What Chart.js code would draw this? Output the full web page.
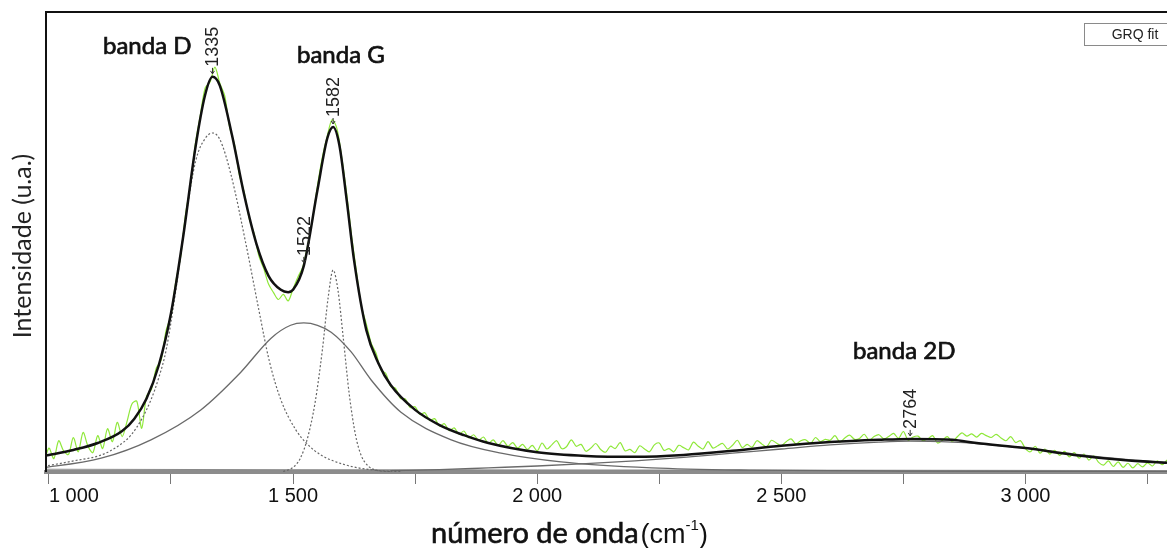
<!DOCTYPE html>
<html lang="pt">
<head>
<meta charset="utf-8">
<title>Espectro Raman</title>
<script src="https://cdn.jsdelivr.net/npm/chart.js@4.4.1/dist/chart.umd.min.js"></script>
<style>
  html, body { margin: 0; padding: 0; background: #fff; }
  #wrap { width: 1167px; height: 548px; }
</style>
</head>
<body>
<div id="wrap"><canvas id="ramanChart" width="1167" height="548"></canvas></div>
<script>
// Raman spectrum: measured signal (green) and fitted bands
const wavenumbers = [
  990,
  1000, 1010, 1020, 1030, 1040, 1050, 1060, 1070, 1080, 1090,
  1100, 1110, 1120, 1130, 1140, 1150, 1160, 1170, 1180, 1190,
  1200, 1210, 1220, 1230, 1240, 1250, 1260, 1270, 1280, 1290,
  1300, 1310, 1320, 1330, 1340, 1350, 1360, 1370, 1380, 1390,
  1400, 1410, 1420, 1430, 1440, 1450, 1460, 1470, 1480, 1490,
  1500, 1510, 1520, 1530, 1540, 1550, 1560, 1570, 1580, 1590,
  1600, 1610, 1620, 1630, 1640, 1650, 1660, 1670, 1680, 1690,
  1700, 1710, 1720, 1730, 1740, 1750, 1760, 1770, 1780, 1790,
  1800, 1810, 1820, 1830, 1840, 1850, 1860, 1870, 1880, 1890,
  1900, 1910, 1920, 1930, 1940, 1950, 1960, 1970, 1980, 1990,
  2000, 2010, 2020, 2030, 2040, 2050, 2060, 2070, 2080, 2090,
  2100, 2110, 2120, 2130, 2140, 2150, 2160, 2170, 2180, 2190,
  2200, 2210, 2220, 2230, 2240, 2250, 2260, 2270, 2280, 2290,
  2300, 2310, 2320, 2330, 2340, 2350, 2360, 2370, 2380, 2390,
  2400, 2410, 2420, 2430, 2440, 2450, 2460, 2470, 2480, 2490,
  2500, 2510, 2520, 2530, 2540, 2550, 2560, 2570, 2580, 2590,
  2600, 2610, 2620, 2630, 2640, 2650, 2660, 2670, 2680, 2690,
  2700, 2710, 2720, 2730, 2740, 2750, 2760, 2770, 2780, 2790,
  2800, 2810, 2820, 2830, 2840, 2850, 2860, 2870, 2880, 2890,
  2900, 2910, 2920, 2930, 2940, 2950, 2960, 2970, 2980, 2990,
  3000, 3010, 3020, 3030, 3040, 3050, 3060, 3070, 3080, 3090,
  3100, 3110, 3120, 3130, 3140, 3150, 3160, 3170, 3180, 3190,
  3200, 3210, 3220, 3230, 3240, 3250, 3260, 3270, 3280, 3290
];
const measured = [
  2.0,
  5.2, 2.9, 6.8, 4.6, 3.8, 7.5, 4.4, 8.6, 5.6, 4.2,
  7.9, 5.1, 9.4, 6.6, 10.8, 7.7, 11.0, 14.8, 15.4, 9.5,
  16.5, 18.0, 22.6, 24.4, 30.8, 34.0, 41.5, 47.0, 56.2, 62.4,
  71.4, 77.5, 83.5, 84.8, 88.0, 84.5, 81.8, 75.0, 71.2, 64.6,
  60.8, 55.2, 51.9, 47.0, 44.2, 40.8, 39.0, 37.5, 38.6, 37.2,
  39.8, 42.4, 44.6, 49.4, 55.0, 62.2, 68.4, 73.0, 76.6, 74.6,
  68.2, 60.3, 51.2, 43.4, 36.0, 32.2, 28.0, 25.8, 22.2, 21.4,
  18.6, 18.2, 16.0, 15.9, 14.0, 14.2, 12.5, 12.9, 11.2, 11.6,
  10.0, 10.5, 9.0, 9.6, 8.2, 8.9, 7.4, 8.1, 6.9, 7.6,
  6.2, 7.0, 5.8, 6.8, 5.6, 6.4, 5.2, 6.0, 4.9, 5.8,
  4.6, 6.3, 5.0, 5.9, 6.8, 5.1, 5.5, 7.0, 5.6, 6.0,
  4.5, 5.2, 6.2, 4.9, 4.3, 5.6, 5.1, 6.4, 4.6, 4.9,
  4.2, 5.7, 5.0, 4.4, 5.9, 6.3, 4.7, 5.1, 4.4, 5.8,
  5.3, 4.8, 6.5, 5.6, 5.0, 6.6, 5.2, 5.7, 6.2, 5.0,
  5.8, 6.9, 5.3, 6.0, 5.4, 6.8, 6.1, 5.5, 6.9, 6.3,
  5.7, 6.6, 7.2, 6.1, 6.8, 7.0, 6.2, 7.5, 6.6, 7.1,
  6.9, 7.9, 6.5, 7.4, 8.0, 7.1, 7.3, 8.2, 6.9, 7.7,
  8.1, 7.2, 7.7, 8.4, 7.3, 8.8, 6.9, 7.6, 7.8, 6.8,
  7.2, 7.9, 6.3, 6.9, 7.7, 6.6, 7.6, 8.5, 7.8, 8.3,
  7.6, 8.4, 7.9, 7.5, 8.2, 7.4, 6.8, 7.7, 6.4, 6.8,
  5.1, 4.4, 5.6, 4.1, 5.0, 3.9, 4.7, 3.6, 4.5, 3.3,
  4.2, 3.0, 3.9, 2.6, 3.5, 2.1, 1.5, 2.4, 1.2, 2.2,
  1.0, 1.9, 0.9, 1.8, 1.1, 2.0, 1.3, 2.4, 1.6, 2.6
];

// Fit envelope (sum of bands)
const fitX = [990, 1000, 1050, 1100, 1150, 1175, 1200, 1225, 1250, 1275, 1300, 1320, 1335, 1350, 1375,
  1400, 1425, 1450, 1475, 1490, 1500, 1522, 1550, 1570, 1582, 1595, 1610, 1625, 1650, 1675, 1700,
  1750, 1800, 1850, 1900, 2000, 2100, 2200, 2300, 2400, 2500, 2600, 2700, 2764, 2850, 2900, 3000,
  3100, 3200, 3290];
const fitY = [3.5, 3.7, 4.8, 6.3, 8.9, 11.6, 16.0, 23.2, 34.5, 51.2, 70.5, 82.0, 85.9, 84.0, 73.2,
  60.2, 49.6, 42.6, 39.6, 39.1, 39.6, 44.8, 61.3, 72.5, 75.0, 71.0, 59.0, 46.0, 30.9, 23.6, 18.9,
  13.5, 10.2, 8.0, 6.3, 4.3, 3.5, 3.3, 3.7, 4.6, 5.7, 6.5, 7.0, 7.2, 7.0, 6.3, 5.2,
  3.7, 2.6, 2.0];

// Individual bands
const dBandX = [990, 1004, 1050, 1107, 1140, 1168, 1190, 1209, 1225, 1240, 1260, 1281, 1301, 1320, 1335,
  1350, 1373, 1404, 1430, 1451, 1475, 1506, 1530, 1557, 1609, 1666, 1720];
const dBandY = [1.3, 1.5, 2.4, 3.7, 5.5, 8.0, 11.5, 15.7, 20.5, 26.5, 39.6, 55.9, 67.8, 72.5, 73.7,
  72.3, 64.6, 49.3, 35.2, 24.3, 15.7, 9.1, 6.0, 3.7, 1.5, 0.4, 0.1];

const gBandX = [1480, 1500, 1515, 1530, 1545, 1560, 1572, 1582, 1592, 1603, 1615, 1628, 1640, 1655, 1670, 1700];
const gBandY = [0.1, 1.0, 3.0, 7.5, 15.0, 26.5, 38.0, 43.9, 39.5, 29.0, 17.0, 8.0, 3.5, 1.2, 0.4, 0.1];

const broadBandX = [990, 1000, 1107, 1209, 1311, 1393, 1455, 1495, 1522, 1550, 1578, 1619, 1660, 1721,
  1824, 1926, 2049, 2234, 2439, 2746, 3290];
const broadBandY = [1.0, 1.1, 3.0, 7.0, 13.5, 21.7, 29.1, 31.9, 32.4, 31.9, 30.4, 26.1, 20.0, 13.0,
  7.0, 4.1, 2.2, 0.9, 0.4, 0.2, 0.1];

const band2DX = [1700, 1800, 1900, 2000, 2100, 2200, 2300, 2400, 2500, 2600, 2700, 2764, 2850, 2900,
  3000, 3100, 3200, 3290];
const band2DY = [0.3, 0.5, 0.9, 1.3, 1.8, 2.4, 3.2, 4.1, 5.0, 5.9, 6.5, 6.7, 6.5, 6.2,
  5.2, 3.9, 2.8, 2.1];

const baseX = [990, 1500, 2000, 2500, 3000, 3290];
const baseY = [0.6, 0.5, 0.45, 0.4, 0.35, 0.3];

const tickValues = [1000, 1250, 1500, 1750, 2000, 2250, 2500, 2750, 3000, 3250];
const tickLabels = ['1 000', '', '1 500', '', '2 000', '', '2 500', '', '3 000', ''];

const peakPositions = [1335, 1582, 1522, 2764];
const peakLabels = ['1335', '1582', '1522', '2764'];
const bandNames = ['banda D', 'banda G', 'banda 2D'];

function toPoints(xs, ys) {
  return xs.map((x, i) => ({ x: x, y: ys[i] }));
}

const SANS = '"Liberation Sans", Arial, sans-serif';
const HUMAN = 'Lato, "Open Sans", sans-serif';

// filled text with a thin outline, a bit heavier than regular weight
function heavyText(ctx, text, x, y, width) {
  ctx.fillText(text, x, y);
  ctx.lineWidth = width;
  ctx.strokeText(text, x, y);
}

// Frame, peak markers, band names, legend box and axis titles
const decorations = {
  id: 'decorations',
  afterDatasetsDraw(chart) {
    const { ctx, chartArea, scales } = chart;
    const xs = scales.x, ys = scales.y;
    ctx.save();

    ctx.strokeStyle = '#111';
    ctx.lineWidth = 2;
    ctx.beginPath();
    ctx.moveTo(chartArea.left, chartArea.bottom);
    ctx.lineTo(chartArea.left, chartArea.top);
    ctx.lineTo(chartArea.right + 2, chartArea.top);
    ctx.stroke();

    // peak positions, written vertically above the fit
    ctx.font = '18px "Liberation Sans Narrow", ' + SANS;
    ctx.fillStyle = '#222';
    ctx.strokeStyle = '#333';
    ctx.lineWidth = 1;
    peakPositions.forEach((p, i) => {
      const px = xs.getPixelForValue(p);
      const py = ys.getPixelForValue(fitY[fitX.indexOf(p)]);
      ctx.beginPath();
      ctx.moveTo(px, py - 3);
      ctx.lineTo(px, py - 9);
      ctx.moveTo(px - 2, py - 6);
      ctx.lineTo(px, py - 3);
      ctx.lineTo(px + 2, py - 6);
      ctx.stroke();
      ctx.save();
      ctx.translate(px + 1, py - 10);
      ctx.rotate(-Math.PI / 2);
      ctx.textAlign = 'left';
      ctx.textBaseline = 'middle';
      ctx.fillText(peakLabels[i], 0, 0);
      ctx.restore();
    });

    // band names
    ctx.font = '24px ' + HUMAN;
    ctx.fillStyle = '#111';
    ctx.strokeStyle = '#111';
    ctx.textBaseline = 'alphabetic';
    ctx.textAlign = 'left';
    heavyText(ctx, bandNames[0], 103, 54, 0.7);
    heavyText(ctx, bandNames[1], 297, 63, 0.7);
    heavyText(ctx, bandNames[2], 853, 359, 0.7);

    // legend box
    ctx.strokeStyle = '#8a8a8a';
    ctx.lineWidth = 1;
    ctx.strokeRect(1084.5, 23.5, 100, 22);
    ctx.font = '14px ' + SANS;
    ctx.fillStyle = '#222';
    ctx.textAlign = 'center';
    ctx.textBaseline = 'middle';
    ctx.fillText('GRQ fit', 1135, 35);

    // y axis title
    ctx.save();
    ctx.translate(23, 246);
    ctx.rotate(-Math.PI / 2);
    ctx.font = '25px ' + HUMAN;
    ctx.fillStyle = '#222';
    ctx.textAlign = 'center';
    ctx.textBaseline = 'middle';
    ctx.fillText('Intensidade (u.a.)', 0, 0);
    ctx.restore();

    // x axis title with superscript unit
    ctx.textAlign = 'left';
    ctx.textBaseline = 'alphabetic';
    ctx.fillStyle = '#111';
    ctx.strokeStyle = '#111';
    let tx = 431;
    const base = 543;
    ctx.font = '29px ' + HUMAN;
    heavyText(ctx, 'número de onda', tx, base, 0.6);
    tx += ctx.measureText('número de onda').width + 2;
    ctx.font = '27px ' + SANS;
    ctx.fillText('(cm', tx, base);
    tx += ctx.measureText('(cm').width;
    ctx.font = '15px ' + SANS;
    ctx.fillText('-1', tx, base - 13);
    tx += ctx.measureText('-1').width;
    ctx.font = '27px ' + SANS;
    ctx.fillText(')', tx, base);

    ctx.restore();
  }
};

const ctx = document.getElementById('ramanChart').getContext('2d');
const ramanChart = new Chart(ctx, {
  type: 'line',
  data: {
    datasets: [
      {
        label: 'ajuste',
        data: toPoints(fitX, fitY),
        borderColor: '#111',
        borderWidth: 2.5,
        cubicInterpolationMode: 'monotone'
      },
      {
        label: 'banda D',
        data: toPoints(dBandX, dBandY),
        borderColor: '#666',
        borderWidth: 1.2,
        borderDash: [2, 2],
        cubicInterpolationMode: 'monotone'
      },
      {
        label: 'banda G',
        data: toPoints(gBandX, gBandY),
        borderColor: '#666',
        borderWidth: 1.2,
        borderDash: [2, 2],
        cubicInterpolationMode: 'monotone'
      },
      {
        label: 'banda 1522',
        data: toPoints(broadBandX, broadBandY),
        borderColor: '#6a6a6a',
        borderWidth: 1.3,
        cubicInterpolationMode: 'monotone'
      },
      {
        label: 'banda 2D',
        data: toPoints(band2DX, band2DY),
        borderColor: '#6a6a6a',
        borderWidth: 1.3,
        cubicInterpolationMode: 'monotone'
      },
      {
        label: 'linha de base',
        data: toPoints(baseX, baseY),
        borderColor: '#888',
        borderWidth: 1,
        cubicInterpolationMode: 'monotone'
      },
      {
        label: 'espectro',
        data: toPoints(wavenumbers, measured),
        borderColor: '#8fe83a',
        borderWidth: 1.2,
        tension: 0.3
      }
    ]
  },
  options: {
    responsive: false,
    animation: false,
    events: [],
    layout: { padding: { left: 46, top: 12, right: 0, bottom: 34 } },
    elements: { point: { radius: 0 } },
    plugins: {
      legend: { display: false },
      tooltip: { enabled: false }
    },
    scales: {
      x: {
        type: 'linear',
        min: 994,
        max: 3290,
        afterBuildTicks: (axis) => { axis.ticks = tickValues.map(v => ({ value: v })); },
        afterFit: (axis) => { axis.height = 42; },
        ticks: {
          autoSkip: false,
          maxRotation: 0,
          align: 'inner',
          padding: 0,
          color: '#111',
          font: { family: SANS, size: 20 },
          callback: (v) => tickLabels[tickValues.indexOf(v)]
        },
        grid: { drawOnChartArea: false, drawTicks: true, tickLength: 12, color: '#777' },
        border: { display: true, color: '#8c8c8c', width: 4 }
      },
      y: {
        display: false,
        min: 0,
        max: 100
      }
    }
  },
  plugins: [decorations]
});
</script>
</body>
</html>
